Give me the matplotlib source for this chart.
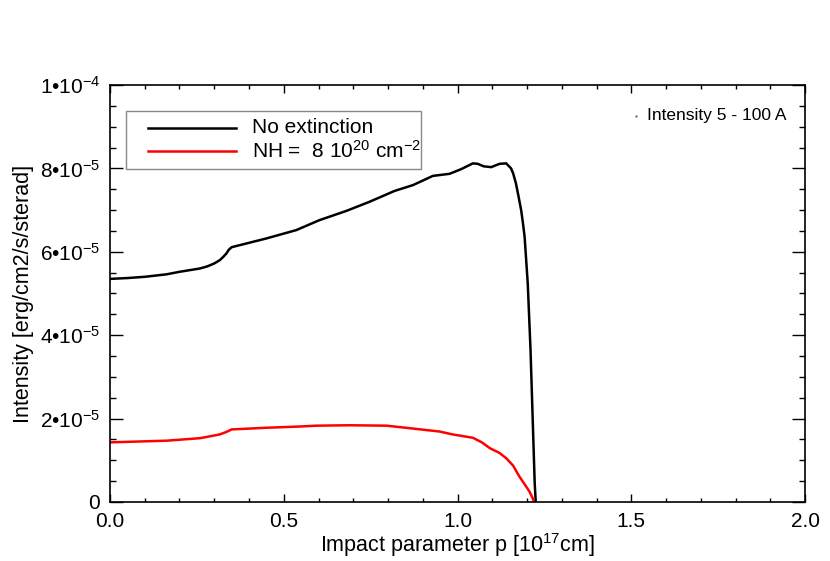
import matplotlib
matplotlib.use("Agg")
import matplotlib.pyplot as plt
from matplotlib.ticker import MultipleLocator
from matplotlib.patches import Rectangle

plt.rcParams["font.family"] = ["Liberation Sans", "DejaVu Sans"]
plt.rcParams["mathtext.fontset"] = "custom"
plt.rcParams["mathtext.rm"] = "Liberation Sans"
plt.rcParams["mathtext.it"] = "Liberation Sans:italic"
plt.rcParams["mathtext.bf"] = "Liberation Sans:bold"

# Impact parameter p [1e17 cm] and intensity [1e-5], no extinction
p_noext = [0.0, 0.05, 0.1, 0.163, 0.2, 0.259, 0.28, 0.3, 0.316, 0.325,
           0.335, 0.342, 0.35, 0.45, 0.536, 0.603, 0.68, 0.747, 0.819, 0.872,
           0.929, 0.977, 1.01, 1.044, 1.058, 1.075, 1.097, 1.121, 1.14, 1.154,
           1.16, 1.168, 1.175, 1.183, 1.188, 1.193, 1.202, 1.21, 1.216, 1.222,
           1.225]
i_noext = [5.35, 5.37, 5.40, 5.46, 5.52, 5.60, 5.65, 5.72, 5.80, 5.87,
           5.96, 6.05, 6.11, 6.32, 6.52, 6.76, 6.98, 7.20, 7.46, 7.60,
           7.82, 7.87, 7.98, 8.12, 8.11, 8.05, 8.03, 8.11, 8.12, 8.00,
           7.88, 7.64, 7.35, 7.00, 6.70, 6.36, 5.24, 3.65, 2.05, 0.45,
           0.0]

# with NH = 8e20 cm^-2
p_nh = [0.0, 0.163, 0.259, 0.316, 0.335, 0.35, 0.45, 0.546, 0.594, 0.69,
        0.795, 0.862, 0.948, 0.986, 1.044, 1.07, 1.093, 1.12, 1.14, 1.16,
        1.178, 1.195, 1.207, 1.215, 1.221]
i_nh = [1.43, 1.47, 1.53, 1.62, 1.68, 1.74, 1.78, 1.81, 1.83, 1.84,
        1.83, 1.77, 1.69, 1.62, 1.54, 1.43, 1.29, 1.18, 1.05, 0.87,
        0.61, 0.40, 0.25, 0.11, 0.0]

y_ticks = [0, 2e-5, 4e-5, 6e-5, 8e-5, 1e-4]
y_labels = ["0", "2\u202210$^{-5}$", "4\u202210$^{-5}$", "6\u202210$^{-5}$",
            "8\u202210$^{-5}$", "1\u202210$^{-4}$"]
x_ticks = [0.0, 0.5, 1.0, 1.5, 2.0]
x_labels = ["0.0", "0.5", "1.0", "1.5", "2.0"]

legend_labels = ["No extinction", "NH =  8 10$^{20}$ cm$^{-2}$"]
legend_colors = ["black", "red"]

fig = plt.figure(figsize=(8.3, 5.61), dpi=100)
ax = fig.add_axes([0.1325, 0.1052, 0.8375, 0.7433])

ax.plot(p_noext, [v * 1e-5 for v in i_noext], color="black", lw=1.8)
ax.plot(p_nh, [v * 1e-5 for v in i_nh], color="red", lw=1.8)

ax.set_xlim(0, 2.0)
ax.set_ylim(0, 1e-4)
ax.set_xticks(x_ticks)
ax.set_xticklabels(x_labels)
ax.set_yticks(y_ticks)
ax.set_yticklabels(y_labels)
ax.xaxis.set_minor_locator(MultipleLocator(0.1))
ax.yaxis.set_minor_locator(MultipleLocator(5e-6))

ax.tick_params(which="both", direction="in", top=True, right=True,
               labelsize=15, width=1)
ax.tick_params(axis="x", which="major", length=5.5, pad=7)
ax.tick_params(axis="x", which="minor", length=3)
ax.tick_params(axis="y", which="major", length=9.5, pad=7)
ax.tick_params(axis="y", which="minor", length=4.5)
for s in ax.spines.values():
    s.set_linewidth(1.2)

ax.set_xlabel("Impact parameter p [10$^{17}$cm]", fontsize=15.5, labelpad=0)
ax.set_ylabel("Intensity [erg/cm2/s/sterad]", fontsize=15.5, labelpad=4)

# legend box drawn by hand (IDL style)
ax.add_patch(Rectangle((0.023, 0.7986), 0.4245, 0.139, transform=ax.transAxes,
                       facecolor="white", edgecolor="#888888", lw=1.0,
                       zorder=5))
for k, (lab, col) in enumerate(zip(legend_labels, legend_colors)):
    yy = 0.8969 - k * 0.0552
    ax.plot([0.0547, 0.1813], [yy, yy], color=col, lw=1.8,
            transform=ax.transAxes, zorder=6)
    ax.text(0.2043, yy, lab, transform=ax.transAxes, fontsize=15,
            va="center", ha="left", zorder=6)

ax.plot([0.757], [0.9257], marker="o", ms=0.6, color="#555555",
        transform=ax.transAxes, clip_on=False)
ax.text(0.7727, 0.9257, "Intensity 5 - 100 A", transform=ax.transAxes,
        fontsize=12.5, va="center", ha="left")

fig.savefig("out.png", dpi=100)
